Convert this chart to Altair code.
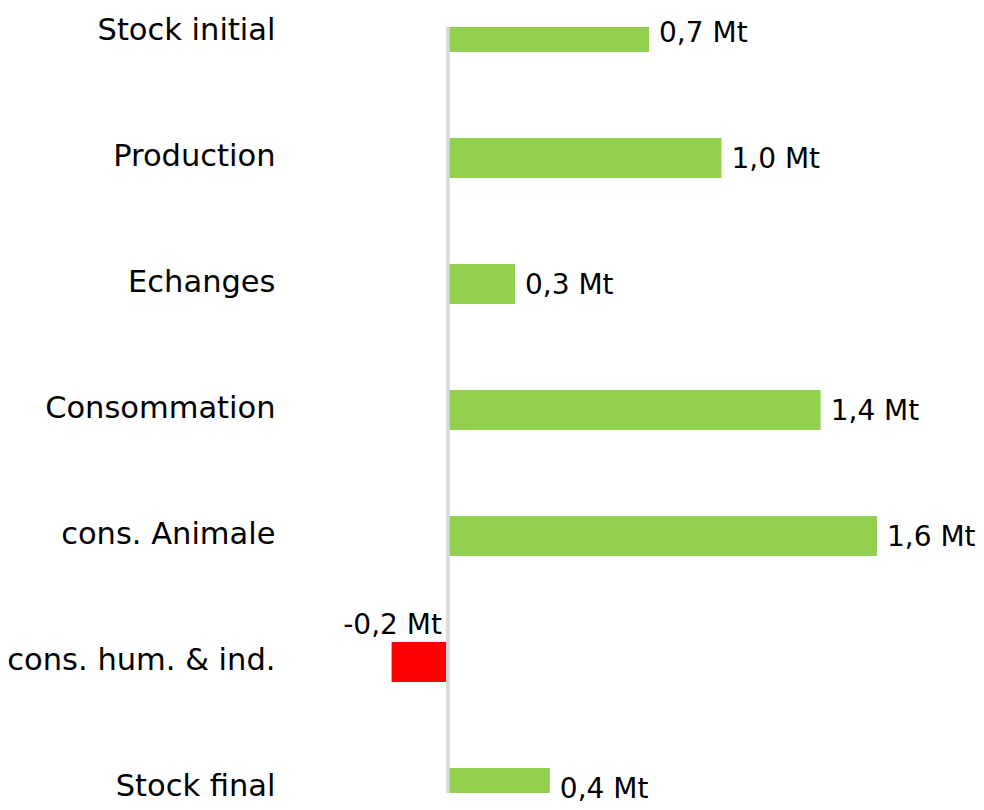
import altair as alt
import pandas as pd

categories = ["Stock initial", "Production", "Echanges", "Consommation",
              "cons. Animale", "cons. hum. & ind.", "Stock final"]
values = [0.75, 1.02, 0.25, 1.39, 1.60, -0.21, 0.38]
labels = ["0,7 Mt", "1,0 Mt", "0,3 Mt", "1,4 Mt", "1,6 Mt", "-0,2 Mt", "0,4 Mt"]

df = pd.DataFrame({
    "idx": list(range(len(categories))),
    "cat": categories,
    "value": values,
    "label": labels,
})
df["sign"] = df["value"].apply(lambda v: "pos" if v >= 0 else "neg")

FONT = "DejaVu Sans"
FS = 30.5
FS_VAL = 28
names_js = "[" + ",".join("'" + c + "'" for c in categories) + "]"

y_enc = alt.Y(
    "idx:Q",
    scale=alt.Scale(domain=[0, 6], reverse=True, nice=False, zero=False),
    axis=alt.Axis(
        values=list(range(len(categories))),
        labelExpr=names_js + "[datum.value]",
        title=None, domain=False, ticks=False, grid=False,
        labelFontSize=FS, labelFont=FONT, labelColor="#000000",
        labelPadding=12, labelLimit=400, labelOffset=-2,
    ),
)
x_scale = alt.Scale(domain=[-0.6, 1.6], nice=False, zero=False)

bars = alt.Chart(df).mark_bar(orient="horizontal", size=40, clip=True).encode(
    x=alt.X("value:Q", scale=x_scale, axis=None),
    x2=alt.datum(0),
    y=y_enc,
    color=alt.Color("sign:N",
                    scale=alt.Scale(domain=["pos", "neg"], range=["#92d050", "#ff0000"]),
                    legend=None),
)

zero_rule = alt.Chart(df).mark_rule(color="#d9d9d9", strokeWidth=2.5).encode(
    x=alt.datum(0)
)

pos_text = alt.Chart(df).transform_filter("datum.value >= 0").mark_text(
    align="left", baseline="middle", dx=10, dy=2, fontSize=FS_VAL, font=FONT, color="#000000"
).encode(x="value:Q", y="idx:Q", text="label:N")

neg_text = alt.Chart(df).transform_filter("datum.value < 0").mark_text(
    align="right", baseline="middle", dx=-6, dy=-36, fontSize=FS_VAL, font=FONT, color="#000000"
).encode(x=alt.datum(0), y="idx:Q", text="label:N")

chart = alt.layer(bars, zero_rule, pos_text, neg_text).properties(
    width=590, height=766,
    autosize=alt.AutoSizeParams(type="none"),
    padding={"left": 279, "top": 19, "right": 99, "bottom": 17},
).configure_view(stroke=None)

chart.save("out.html", embed_options={"renderer": "svg", "actions": False})
